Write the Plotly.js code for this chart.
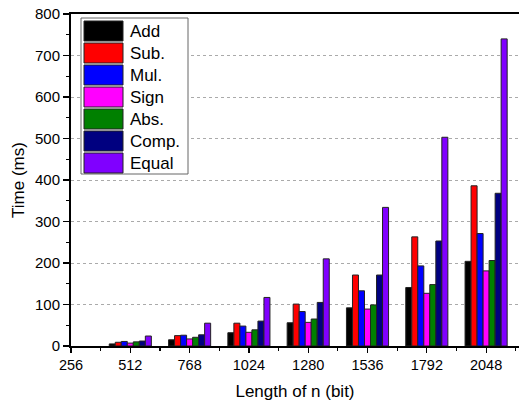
<!DOCTYPE html>
<html><head><meta charset="utf-8">
<script src="https://cdn.plot.ly/plotly-3.0.1.min.js"></script>
<style>body{margin:0;padding:0;background:#fff}#chart{width:519px;height:405px}</style>
</head><body><div id="chart"></div>
<script>
var lengths = [512, 768, 1024, 1280, 1536, 1792, 2048];
var tickLabels = ['256','512','768','1024','1280','1536','1792','2048'];
var tickPositions = [256, 512, 768, 1024, 1280, 1536, 1792, 2048];
var addT   = [5, 15, 32, 56, 92, 141, 204];
var subT   = [9, 25, 55, 101, 171, 263, 386];
var mulT   = [11, 26, 48, 83, 133, 193, 271];
var signT  = [7, 17, 33, 57, 89, 127, 181];
var absT   = [10, 21, 39, 65, 99, 148, 206];
var compT  = [12, 27, 60, 105, 171, 253, 368];
var equalT = [24, 55, 117, 210, 334, 503, 740];
var names = ['Add','Sub.','Mul.','Sign','Abs.','Comp.','Equal'];
var colors = ['#000000','#FF0000','#0000FF','#FF00FF','#008000','#000080','#8000FF'];
var series = [addT, subT, mulT, signT, absT, compT, equalT];

var traces = series.map(function(v, i){
  return {type:'bar', x:lengths, y:v, name:names[i], showlegend:false,
    marker:{color:colors[i], line:{color:'#222', width:1}}};
});

// custom legend (large swatches), positioned in pixels then converted to paper coords
var W = 519, H = 405, ML = 71, MR = 0, MT = 14, MB = 59;
var PW = W - ML - MR, PH = H - MT - MB;
function px(x){ return (x - ML) / PW; }
function py(y){ return (H - MB - y) / PH; }
var shapes = [{type:'rect', xref:'paper', yref:'paper', x0:px(81), x1:px(188), y0:py(174), y1:py(18),
  fillcolor:'#fff', line:{color:'#666', width:1}, layer:'above'}];
var annotations = [];
names.forEach(function(n, i){
  var top = 21 + i*22;
  shapes.push({type:'rect', xref:'paper', yref:'paper', x0:px(84), x1:px(123), y0:py(top+20), y1:py(top),
    fillcolor:colors[i], line:{color:'#222', width:1}, layer:'above'});
  annotations.push({xref:'paper', yref:'paper', x:px(128), y:py(top+10.5), xanchor:'left', yanchor:'middle',
    text:n, showarrow:false, font:{size:17, color:'#000'}});
});

var layout = {
  width:W, height:H,
  margin:{l:ML, r:MR, t:MT, b:MB},
  paper_bgcolor:'#fff', plot_bgcolor:'#fff',
  barmode:'group', bargap:0.29, bargroupgap:0,
  font:{family:'Liberation Sans, Arial, sans-serif', size:14, color:'#000'},
  xaxis:{range:[256, 2190], tickvals:tickPositions, ticktext:tickLabels,
    ticks:'outside', ticklen:5, tickwidth:1.2, tickcolor:'#000',
    minor:{ticks:'outside', ticklen:3, dtick:128, tick0:256, tickcolor:'#000', tickwidth:1.2},
    showline:true, linecolor:'#000', linewidth:2, mirror:true,
    showgrid:false, zeroline:false,
    title:{text:'Length of n (bit)', font:{size:17}, standoff:13},
    tickfont:{size:14.5}},
  yaxis:{range:[0, 800], dtick:100,
    ticks:'outside', ticklen:6, tickwidth:1.2, tickcolor:'#000',
    minor:{ticks:'outside', ticklen:3, dtick:50, tickcolor:'#000', tickwidth:1.2, showgrid:false},
    showline:true, linecolor:'#000', linewidth:2,
    showgrid:true, gridcolor:'#aaa', griddash:'dot', gridwidth:1, zeroline:false,
    title:{text:'Time (ms)', font:{size:17}, standoff:6},
    tickfont:{size:15}},
  shapes:shapes, annotations:annotations,
  showlegend:false
};
Plotly.newPlot('chart', traces, layout, {displayModeBar:false, staticPlot:true});
</script></body></html>
